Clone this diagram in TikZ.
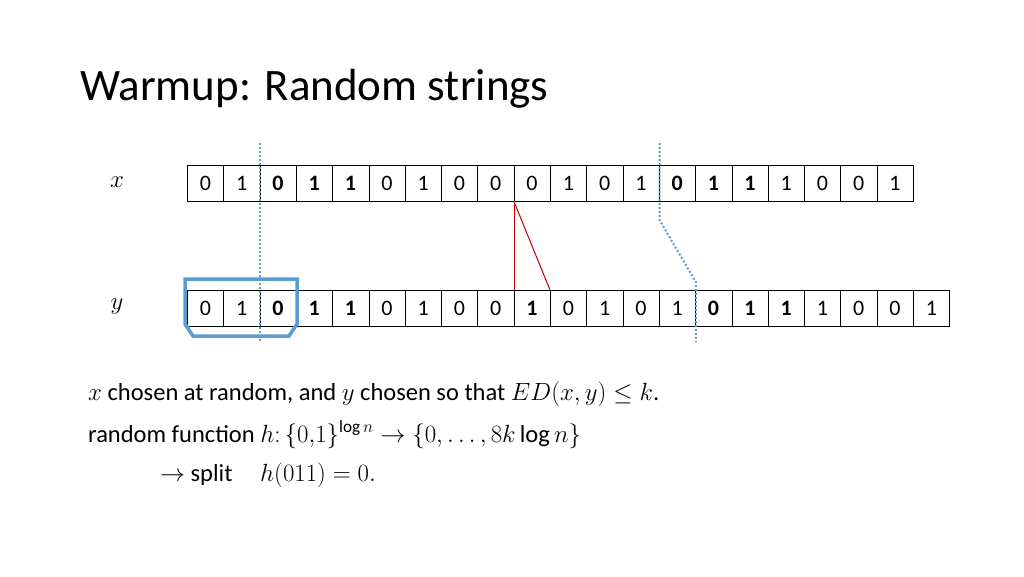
\documentclass[tikz,border=0pt]{standalone}
\usepackage{fontspec}
\setmainfont{Carlito}
\definecolor{lb}{RGB}{91,155,213}
\definecolor{dr}{RGB}{192,0,0}
\begin{document}
\begin{tikzpicture}[x=1pt,y=-1pt,
  cell/.style={draw,thin,minimum width=36.3pt,minimum height=35.5pt,inner sep=0pt,anchor=north west,font=\fontsize{22}{22}\selectfont},
  dotl/.style={draw=lb,line width=2pt,dash pattern=on 2pt off 2pt},
  body/.style={anchor=base west,font=\fontsize{24.5}{28}\selectfont,inner sep=0pt}]
\useasboundingbox (0,0) rectangle (1024,576);
\node[anchor=base west,inner sep=0pt,font=\fontsize{45}{48}\selectfont] (title) at (80,100) {Warmup: Random strings};
\node[font=\fontsize{24}{24}\selectfont] (xl) at (117,182) {$x$};
\node[font=\fontsize{24}{24}\selectfont] (yl) at (117,307) {$y$};
\foreach \b [count=\i from 0] in {0,1,0b,1b,1b,0,1,0,0,0,1,0,1,0b,1b,1b,1,0,0,1}{
  \pgfmathsetmacro\xx{187+36.3*\i}
  \ifnum\pdfstrcmp{\b}{0b}=0 \node[cell] (t\i) at (\xx,165) {\textbf{0}};
  \else\ifnum\pdfstrcmp{\b}{1b}=0 \node[cell] (t\i) at (\xx,165) {\textbf{1}};
  \else \node[cell] (t\i) at (\xx,165) {\b};\fi\fi
}
\foreach \b [count=\i from 0] in {0,1,0b,1b,1b,0,1,0,0,1b,0,1,0,1,0b,1b,1b,1,0,0,1}{
  \pgfmathsetmacro\xx{187+36.3*\i}
  \ifnum\pdfstrcmp{\b}{0b}=0 \node[cell] (b\i) at (\xx,290) {\textbf{0}};
  \else\ifnum\pdfstrcmp{\b}{1b}=0 \node[cell] (b\i) at (\xx,290) {\textbf{1}};
  \else \node[cell] (b\i) at (\xx,290) {\b};\fi\fi
}
\draw[dr,line width=1pt] ([xshift=0.5pt]t9.south west) -- ([xshift=0.5pt]b9.north west);
\draw[dr,line width=1pt] (t9.south west) -- (b10.north west);
\coordinate (d1) at (259.6,143);
\coordinate (d2) at (259.6,342);
\draw[dotl] (d1) -- (d2);
\coordinate (e1) at (659.5,143);
\coordinate (e2) at (659.5,220);
\coordinate (e3) at (695.8,282);
\coordinate (e4) at (695.8,342);
\draw[dotl] (e1) -- (e2) -- (e3) -- (e4);
\draw[lb,line width=3.5pt] (185,279) -- (297,279) -- (297,324) -- (289,336) -- (193,336) -- (185,324) -- cycle;
\node[body] (l1) at (88,400) {$x$ chosen at random, and $y$ chosen so that $ED(x,y)\leq k$.};
\node[body] (l2) at (88,442) {random function $h\colon\{0{,}1\}^{\log n}\to\{0,\ldots,8k\log n\}$};
\node[body] (l3) at (160,481) {$\to$ split};
\node[body] (l4) at (260,481) {$h(011)=0.$};
\end{tikzpicture}
\end{document}
